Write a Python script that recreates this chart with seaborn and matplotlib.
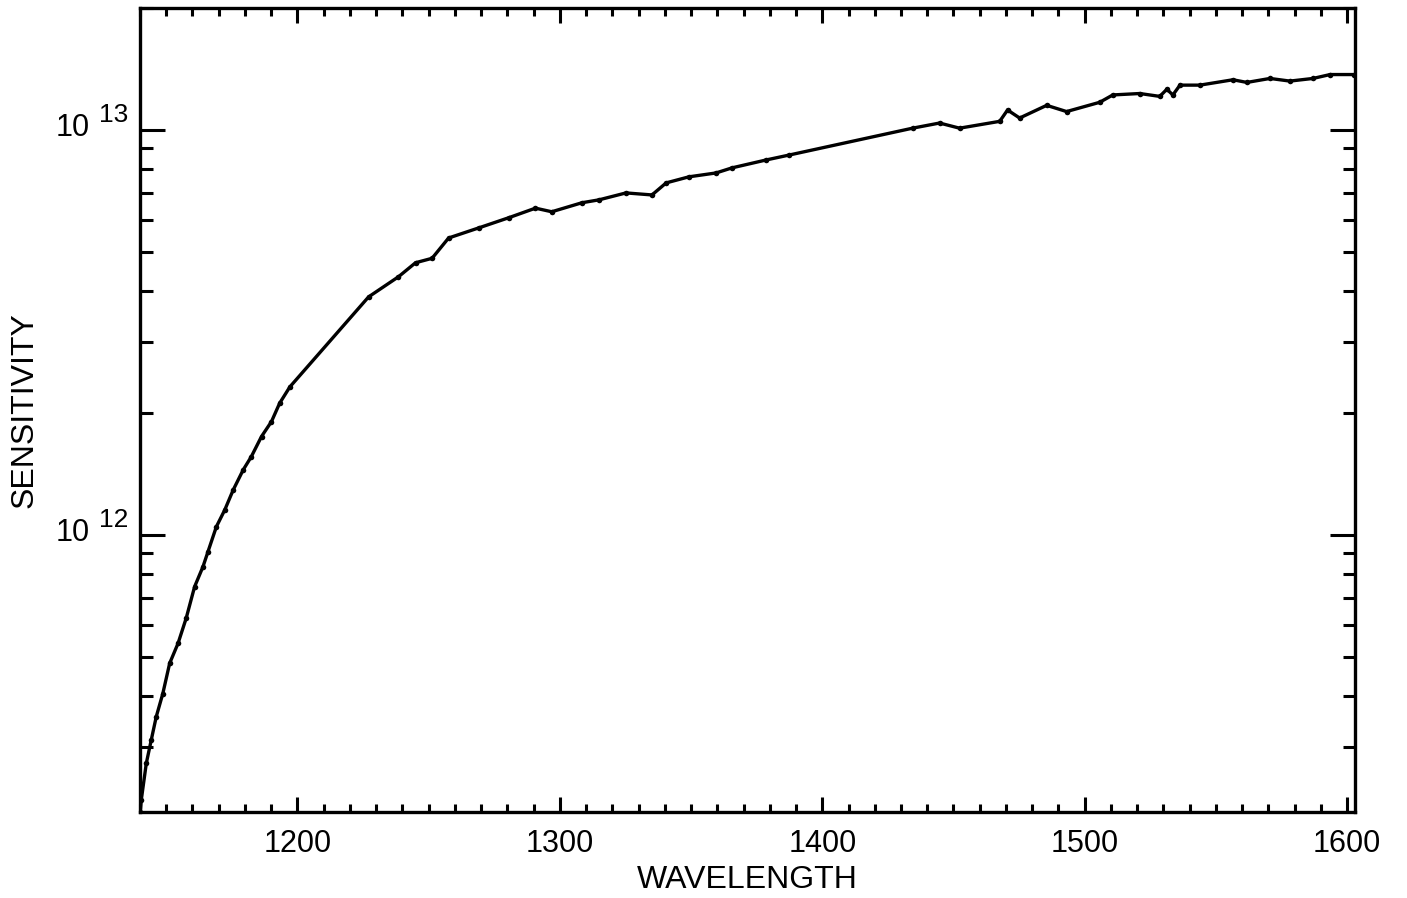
import numpy as np
import pandas as pd
import matplotlib
matplotlib.use("Agg")
import matplotlib.pyplot as plt
import matplotlib.ticker as mticker
import matplotlib.transforms as mtransforms
import seaborn as sns

# Wavelength (Angstrom) and sensitivity values
wavelength = [1140.1, 1140.5, 1142.4, 1144.3, 1146.2, 1148.7, 1151.3, 1154.5, 1157.6,
              1160.8, 1164.0, 1165.9, 1169.1, 1172.3, 1175.5, 1179.3, 1182.4, 1186.3,
              1190.1, 1193.2, 1197.1,
              1227.1, 1238.5, 1245.0, 1251.3, 1257.6,
              1269.1, 1280.5, 1290.7, 1296.9, 1308.4, 1314.9, 1325.2, 1335.1, 1340.5,
              1349.2, 1359.5, 1365.6, 1378.6, 1387.4,
              1434.4, 1444.7, 1452.3, 1467.6,
              1470.6, 1475.2, 1485.5, 1493.1, 1505.7, 1510.7, 1521.0, 1528.6, 1531.3,
              1533.6, 1536.3, 1543.9, 1556.5, 1561.8, 1570.6, 1578.2, 1587.0, 1593.5,
              1602.5]
sensitivity = [2.07e11, 2.22e11, 2.73e11, 3.12e11, 3.56e11, 4.06e11, 4.82e11, 5.40e11, 6.23e11,
               7.45e11, 8.35e11, 9.09e11, 1.048e12, 1.153e12, 1.291e12, 1.447e12, 1.56e12, 1.75e12,
               1.905e12, 2.114e12, 2.32e12,
               3.87e12, 4.34e12, 4.70e12, 4.82e12, 5.41e12,
               5.73e12, 6.07e12, 6.41e12, 6.28e12, 6.61e12, 6.72e12, 6.99e12, 6.91e12, 7.40e12,
               7.66e12, 7.83e12, 8.06e12, 8.43e12, 8.67e12,
               1.01e13, 1.04e13, 1.01e13, 1.05e13,
               1.12e13, 1.07e13, 1.15e13, 1.11e13, 1.17e13, 1.22e13, 1.23e13, 1.21e13, 1.26e13,
               1.22e13, 1.29e13, 1.29e13, 1.33e13, 1.31e13, 1.34e13, 1.32e13, 1.34e13, 1.37e13,
               1.37e13]

x_major_ticks = [1200, 1300, 1400, 1500, 1600]
x_label = "WAVELENGTH"
y_label = "SENSITIVITY"

df = pd.DataFrame({"wavelength": wavelength, "sensitivity": sensitivity})

sns.set_theme(style="ticks")
plt.rcParams["font.family"] = ["Liberation Sans", "DejaVu Sans"]

fig = plt.figure(figsize=(14.07, 8.98), dpi=100)
ax = fig.add_axes([140 / 1407, 1 - 812 / 898, (1355 - 140) / 1407, (812 - 8) / 898])

sns.lineplot(data=df, x="wavelength", y="sensitivity", ax=ax, color="black",
             linewidth=2.4, sort=False, estimator=None)
sns.scatterplot(data=df, x="wavelength", y="sensitivity", ax=ax, color="black",
                s=16, linewidth=0)

ax.set_yscale("log")
ax.set_xlim(1140, 1603)
ax.set_ylim(2.07e11, 2.0e13)

ax.xaxis.set_major_locator(mticker.FixedLocator(x_major_ticks))
ax.xaxis.set_minor_locator(mticker.MultipleLocator(10))
ax.yaxis.set_major_locator(mticker.LogLocator(base=10))
ax.yaxis.set_minor_locator(mticker.LogLocator(base=10, subs=np.arange(2, 10)))
ax.yaxis.set_minor_formatter(mticker.NullFormatter())
ax.yaxis.set_major_formatter(mticker.NullFormatter())

ax.tick_params(axis="both", which="both", direction="in", top=True, right=True,
               width=2.2, color="black", labelsize=22, labelcolor="black")
ax.tick_params(axis="x", which="major", length=11, pad=12)
ax.tick_params(axis="x", which="minor", length=6)
ax.tick_params(axis="y", which="major", length=18)
ax.tick_params(axis="y", which="minor", length=9)

# y tick labels as 10 with a large raised exponent
ylo, yhi = ax.get_ylim()
trans = mtransforms.blended_transform_factory(ax.transAxes, ax.transData)
base_tr = mtransforms.offset_copy(trans, fig=fig, x=-50, y=1.5, units="dots")
exp_tr = mtransforms.offset_copy(trans, fig=fig, x=-41, y=14.5, units="dots")
for v in ax.get_yticks():
    if ylo <= v <= yhi:
        e = int(round(np.log10(v)))
        ax.text(0, v, "10", transform=base_tr, ha="right", va="center",
                fontsize=22, color="black")
        ax.text(0, v, str(e), transform=exp_tr, ha="left", va="center",
                fontsize=19, color="black")

for sp in ax.spines.values():
    sp.set_linewidth(2.4)
    sp.set_color("black")

ax.set_xlabel(x_label, fontsize=23, color="black")
ax.set_ylabel(y_label, fontsize=23, color="black")
ax.xaxis.set_label_coords(0.5, -0.066)
ax.yaxis.set_label_coords(-0.0823, 0.5)
ax.grid(False)
ax.set_facecolor("white")
fig.patch.set_facecolor("white")

fig.savefig("out.png", dpi=100, facecolor="white")
